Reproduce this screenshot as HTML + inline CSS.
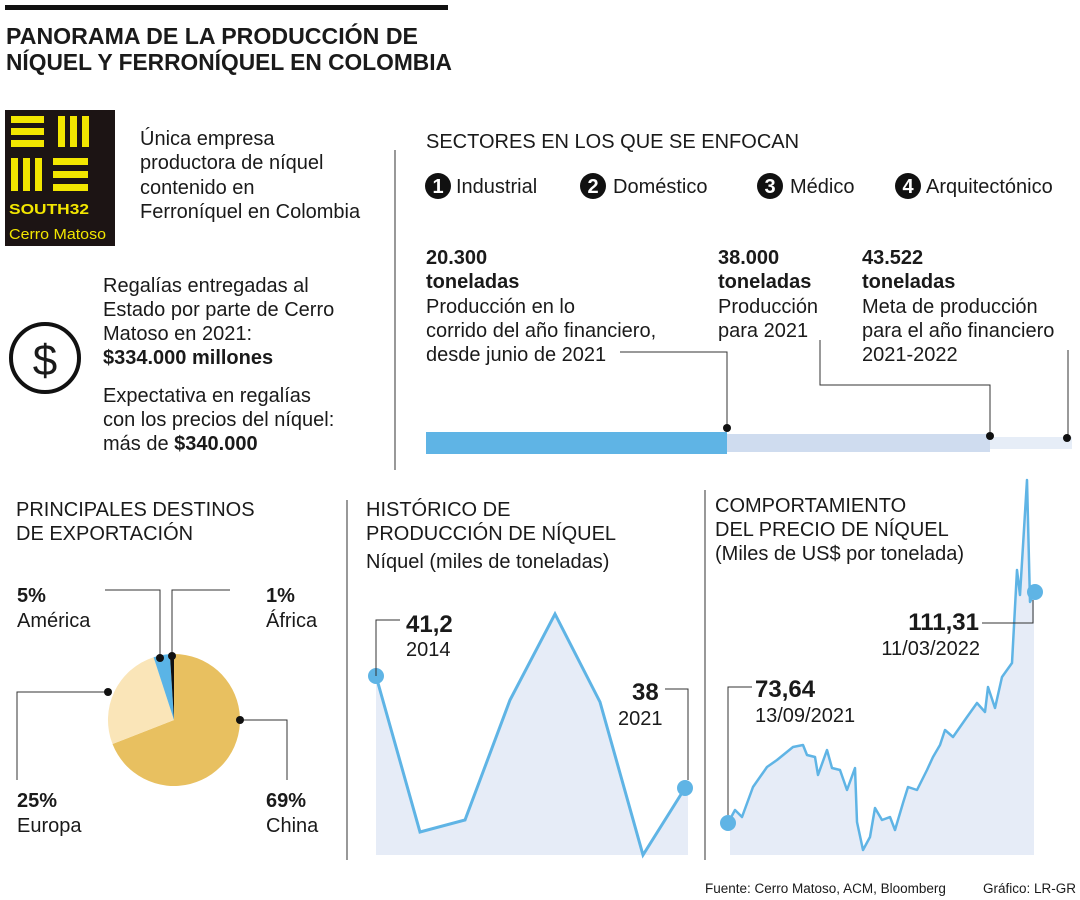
<!DOCTYPE html>
<html><head><meta charset="utf-8"><style>
body{margin:0;background:#fff}
svg{display:block}
text{font-family:"Liberation Sans",sans-serif;fill:#1a1a1a}
.t{font-size:20px}
.b{font-weight:bold}
</style></head><body>
<svg width="1080" height="900" viewBox="0 0 1080 900" xmlns="http://www.w3.org/2000/svg">
<rect x="5" y="5" width="443" height="5" fill="#111"/>
<text x="6" y="44" class="b" font-size="23" textLength="412" lengthAdjust="spacingAndGlyphs">PANORAMA DE LA PRODUCCIÓN DE</text>
<text x="6" y="70" class="b" font-size="23" textLength="446" lengthAdjust="spacingAndGlyphs">NÍQUEL Y FERRONÍQUEL EN COLOMBIA</text>

<!-- logo -->
<rect x="5" y="110" width="110" height="136" fill="#1c1414"/>
<g fill="#f2e600">
<rect x="11" y="116" width="33" height="7"/><rect x="11" y="128" width="33" height="7"/><rect x="11" y="140" width="33" height="7"/>
<rect x="58" y="116" width="7" height="31"/><rect x="70" y="116" width="7" height="31"/><rect x="82" y="116" width="7" height="31"/>
<rect x="11" y="158" width="7" height="33"/><rect x="23" y="158" width="7" height="33"/><rect x="35" y="158" width="7" height="33"/>
<rect x="53" y="158" width="35" height="7"/><rect x="53" y="171" width="35" height="7"/><rect x="53" y="184" width="35" height="7"/>
</g>
<text x="9" y="214" font-size="15" class="b" style="fill:#f2e600" textLength="80" lengthAdjust="spacingAndGlyphs">SOUTH32</text>
<text x="9" y="239" font-size="15" style="fill:#f2e600" textLength="97" lengthAdjust="spacingAndGlyphs">Cerro Matoso</text>

<g class="t">
<text x="140" y="145">Única empresa</text>
<text x="140" y="169">productora de níquel</text>
<text x="140" y="194">contenido en</text>
<text x="140" y="218">Ferroníquel en Colombia</text>
<text x="103" y="292">Regalías entregadas al</text>
<text x="103" y="316">Estado por parte de Cerro</text>
<text x="103" y="340">Matoso en 2021:</text>
<text x="103" y="364" class="b">$334.000 millones</text>
<text x="103" y="402">Expectativa en regalías</text>
<text x="103" y="426">con los precios del níquel:</text>
<text x="103" y="450">más de <tspan class="b">$340.000</tspan></text>
</g>
<circle cx="45" cy="358" r="34" fill="none" stroke="#111" stroke-width="4"/>
<text x="45" y="375" font-size="44" text-anchor="middle">$</text>

<line x1="395" y1="150" x2="395" y2="470" stroke="#555" stroke-width="1.2"/>
<text x="426" y="148" class="t">SECTORES EN LOS QUE SE ENFOCAN</text>
<g class="t">
<circle cx="438" cy="186" r="13" fill="#111"/><text x="438" y="193" text-anchor="middle" style="fill:#fff" class="b">1</text><text x="456" y="193">Industrial</text>
<circle cx="593" cy="186" r="13" fill="#111"/><text x="593" y="193" text-anchor="middle" style="fill:#fff" class="b">2</text><text x="613" y="193">Doméstico</text>
<circle cx="770" cy="186" r="13" fill="#111"/><text x="770" y="193" text-anchor="middle" style="fill:#fff" class="b">3</text><text x="790" y="193">Médico</text>
<circle cx="908" cy="186" r="13" fill="#111"/><text x="908" y="193" text-anchor="middle" style="fill:#fff" class="b">4</text><text x="926" y="193">Arquitectónico</text>

<text x="426" y="264" class="b">20.300</text><text x="426" y="288" class="b">toneladas</text>
<text x="426" y="313">Producción en lo</text><text x="426" y="337">corrido del año financiero,</text><text x="426" y="361">desde junio de 2021</text>
<text x="718" y="264" class="b">38.000</text><text x="718" y="288" class="b">toneladas</text>
<text x="718" y="313">Producción</text><text x="718" y="337">para 2021</text>
<text x="862" y="264" class="b">43.522</text><text x="862" y="288" class="b">toneladas</text>
<text x="862" y="313">Meta de producción</text><text x="862" y="337">para el año financiero</text><text x="862" y="361">2021-2022</text>
</g>
<rect x="426" y="432" width="301" height="22" fill="#5fb4e5"/>
<rect x="727" y="434" width="263" height="18" fill="#cfdcef"/>
<rect x="990" y="437" width="82" height="12" fill="#e6edf7"/>
<g stroke="#333" stroke-width="1" fill="none">
<polyline points="620,352 727,352 727,428"/>
<polyline points="820,340 820,385 990,385 990,436"/>
<polyline points="1068,350 1068,438"/>
</g>
<circle cx="727" cy="428" r="4" fill="#111"/><circle cx="990" cy="436" r="4" fill="#111"/><circle cx="1067" cy="438" r="4" fill="#111"/>

<!-- pie -->
<g class="t">
<text x="16" y="516">PRINCIPALES DESTINOS</text><text x="16" y="540">DE EXPORTACIÓN</text>
<text x="17" y="602" class="b">5%</text><text x="17" y="627">América</text>
<text x="266" y="602" class="b">1%</text><text x="266" y="627">África</text>
<text x="17" y="807" class="b">25%</text><text x="17" y="832">Europa</text>
<text x="266" y="807" class="b">69%</text><text x="266" y="832">China</text>
</g>
<path d="M174,720 L174,654 A66,66 0 1 1 112.5,744 Z" fill="#e8c060"/>
<path d="M174,720 L112.5,744 A66,66 0 0 1 153.6,657.2 Z" fill="#fae5b8"/>
<path d="M174,720 L153.6,657.2 A66,66 0 0 1 169.9,654.1 Z" fill="#5ab4e6"/>
<path d="M174,720 L169.9,654.1 A66,66 0 0 1 174,654 Z" fill="#111"/>
<g stroke="#333" stroke-width="1" fill="none">
<polyline points="105,590 160,590 160,658"/>
<polyline points="230,590 172,590 172,656"/>
<polyline points="17,780 17,692 108,692"/>
<polyline points="240,720 287,720 287,780"/>
</g>
<circle cx="160" cy="658" r="4" fill="#111"/><circle cx="172" cy="656" r="4" fill="#111"/><circle cx="108" cy="692" r="4" fill="#111"/><circle cx="240" cy="720" r="4" fill="#111"/>

<line x1="347" y1="500" x2="347" y2="860" stroke="#555" stroke-width="1.2"/>
<line x1="705" y1="490" x2="705" y2="860" stroke="#555" stroke-width="1.2"/>

<!-- historico -->
<g class="t">
<text x="366" y="516">HISTÓRICO DE</text><text x="366" y="540">PRODUCCIÓN DE NÍQUEL</text><text x="366" y="568">Níquel (miles de toneladas)</text>
</g>
<polygon points="376,676 420,832 465,820 510,700 555,614 600,702 643,855 685,788 688,788 688,855 376,855" fill="#e6ecf7"/>
<polyline points="376,676 420,832 465,820 510,700 555,614 600,702 643,855 685,788" fill="none" stroke="#5fb4e5" stroke-width="3"/>
<circle cx="376" cy="676" r="8" fill="#5fb4e5"/><circle cx="685" cy="788" r="8" fill="#5fb4e5"/>
<polyline points="376,676 376,620 400,620" fill="none" stroke="#333"/>
<polyline points="665,689 688,689 688,780" fill="none" stroke="#333"/>
<text x="406" y="632" font-size="24" class="b">41,2</text><text x="406" y="656" class="t">2014</text>
<text x="632" y="700" font-size="24" class="b">38</text><text x="618" y="725" class="t">2021</text>

<!-- precio -->
<g class="t">
<text x="715" y="512">COMPORTAMIENTO</text><text x="715" y="536">DEL PRECIO DE NÍQUEL</text><text x="715" y="560">(Miles de US$ por tonelada)</text>
</g>
<polygon points="730,823 735,810 742,817 753,787 767,767 777,760 793,747 803,745 807,755 815,757 818,775 827,750 832,768 840,770 847,790 855,768 857,822 863,850 870,837 875,808 882,820 890,817 895,830 903,803 908,787 917,790 927,770 933,757 940,745 945,730 953,737 967,717 977,703 985,712 988,687 995,708 1002,677 1012,663 1017,570 1020,595 1027,480 1030,602 1034,592 1034,855 730,855" fill="#e6ecf7"/>
<polyline points="728,823 735,810 742,817 753,787 767,767 777,760 793,747 803,745 807,755 815,757 818,775 827,750 832,768 840,770 847,790 855,768 857,822 863,850 870,837 875,808 882,820 890,817 895,830 903,803 908,787 917,790 927,770 933,757 940,745 945,730 953,737 967,717 977,703 985,712 988,687 995,708 1002,677 1012,663 1017,570 1020,595 1027,480 1030,602 1035,592" fill="none" stroke="#5fb4e5" stroke-width="2.5" stroke-linejoin="round"/>
<circle cx="728" cy="823" r="8" fill="#5fb4e5"/><circle cx="1035" cy="592" r="8" fill="#5fb4e5"/>
<polyline points="728,815 728,687 752,687" fill="none" stroke="#333"/>
<polyline points="982,623 1033,623 1033,600" fill="none" stroke="#333"/>
<text x="755" y="697" font-size="24" class="b">73,64</text><text x="755" y="722" class="t">13/09/2021</text>
<text x="979" y="630" font-size="24" class="b" text-anchor="end">111,31</text><text x="980" y="655" class="t" text-anchor="end">11/03/2022</text>

<text x="705" y="893" font-size="13.5">Fuente: Cerro Matoso, ACM, Bloomberg</text>
<text x="983" y="893" font-size="13.5">Gráfico: LR-GR</text>
</svg>
</body></html>
